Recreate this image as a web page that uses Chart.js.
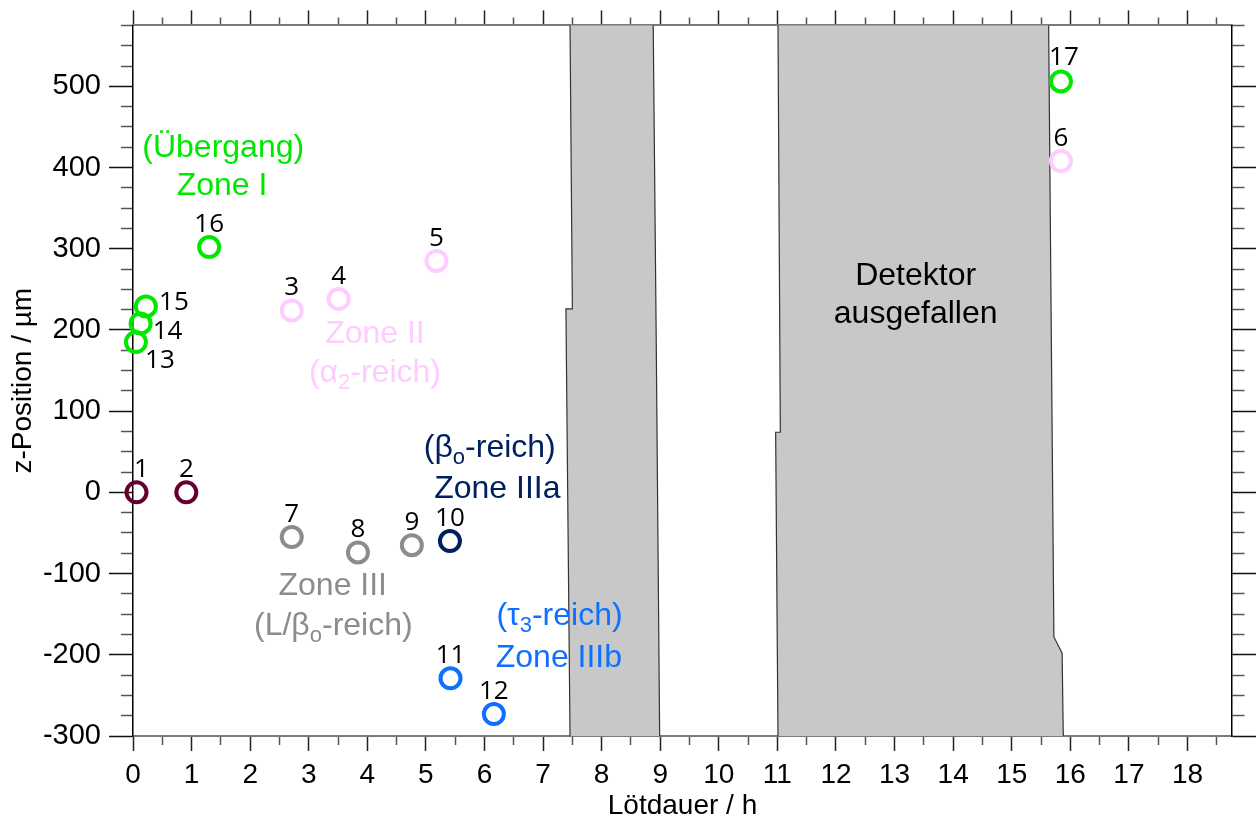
<!DOCTYPE html>
<html>
<head>
<meta charset="utf-8">
<script src="https://cdn.jsdelivr.net/npm/chart.js@4.4.1/dist/chart.umd.min.js"></script>
<style>
  html, body { margin:0; padding:0; background:#fff; }
  #wrap { width:1257px; height:827px; }
</style>
</head>
<body>
<div id="wrap"><canvas id="zChart" width="1257" height="827"></canvas></div>
<script>
// measured positions: Lötdauer (h) vs z-Position (µm)
const pointIds = [1, 2, 3, 4, 5, 6, 7, 8, 9, 10, 11, 12, 13, 14, 15, 16, 17];
const hours = [0.06, 0.91, 2.71, 3.51, 5.18, 15.84, 2.71, 3.84, 4.76, 5.41, 5.42, 6.16, 0.05, 0.13, 0.22, 1.30, 15.84];
const zPos = [0, 0, 224, 238, 285, 408, -55, -74, -65, -60, -229, -273, 185, 208, 229, 302, 506];
const pointZone = ['base', 'base', 'II', 'II', 'II', 'II', 'III', 'III', 'III', 'IIIa', 'IIIb', 'IIIb', 'I', 'I', 'I', 'I', 'I'];

// axis ranges
const xMin = 0, xMax = 18.76;
const yMin = -300, yMax = 575;

// detector outage bands, edges as [h, µm] from top to bottom
const band1Left = [[7.46, 575], [7.50, 226], [7.39, 226], [7.46, -300]];
const band1Right = [[8.88, 575], [8.93, 200], [8.99, -300]];
const band2Left = [[11.01, 575], [11.05, 74], [10.97, 74], [11.01, -300]];
const band2Right = [[15.63, 575], [15.72, -178], [15.86, -198], [15.88, -300]];

const zoneColors = {
  base: '#660033',
  I: '#00e800',
  II: '#ffccff',
  III: '#8c8c8c',
  IIIa: '#002060',
  IIIb: '#0f6fff'
};

// zone captions; [text, isSubscript]
const notes = [
  { parts: [['(Übergang)']], x: 1.54, y: 413, zone: 'I' },
  { parts: [['Zone I']], x: 1.52, y: 366, zone: 'I' },
  { parts: [['Zone II']], x: 4.13, y: 184, zone: 'II' },
  { parts: [['(α'], ['2', 1], ['-reich)']], x: 4.13, y: 136, zone: 'II' },
  { parts: [['(β'], ['o', 1], ['-reich)']], x: 6.09, y: 43, zone: 'IIIa' },
  { parts: [['Zone IIIa']], x: 6.22, y: -7, zone: 'IIIa' },
  { parts: [['Zone III']], x: 3.41, y: -126, zone: 'III' },
  { parts: [['(L/β'], ['o', 1], ['-reich)']], x: 3.42, y: -176, zone: 'III' },
  { parts: [['(τ'], ['3', 1], ['-reich)']], x: 7.28, y: -163, zone: 'IIIb' },
  { parts: [['Zone IIIb']], x: 7.27, y: -215, zone: 'IIIb' },
  { parts: [['Detektor']], x: 13.36, y: 255, zone: null },
  { parts: [['ausgefallen']], x: 13.36, y: 208, zone: null }
];

// label offsets in px (dx, baseline dy) per point number
const labelOffsets = { 1: [5, -15], 13: [24, 26], 14: [27, 16], 15: [28, 4], 17: [3, -16] };

Chart.defaults.font.family = "'Liberation Sans', Arial, sans-serif";
Chart.defaults.color = '#000';

// build one scatter dataset per zone
const zoneOrder = ['base', 'II', 'III', 'IIIa', 'IIIb', 'I'];
const datasets = zoneOrder.map(z => {
  const data = [];
  pointIds.forEach((id, i) => {
    if (pointZone[i] === z) data.push({ x: hours[i], y: zPos[i], id: id });
  });
  return {
    label: z,
    data: data,
    pointRadius: 10,
    pointBorderWidth: 4,
    borderColor: zoneColors[z],
    backgroundColor: 'rgba(0,0,0,0)',
    showLine: false,
    clip: false
  };
});

const bands = [
  { left: band1Left, right: band1Right },
  { left: band2Left, right: band2Right }
];

const bandPlugin = {
  id: 'bands',
  beforeDatasetsDraw(chart) {
    const { ctx, scales: { x, y } } = chart;
    const px = p => [x.getPixelForValue(p[0]), y.getPixelForValue(p[1])];
    ctx.save();
    bands.forEach(b => {
      const pts = b.left.concat(b.right.slice().reverse()).map(px);
      ctx.beginPath();
      pts.forEach((p, i) => i ? ctx.lineTo(p[0], p[1]) : ctx.moveTo(p[0], p[1]));
      ctx.closePath();
      ctx.fillStyle = '#c8c8c8';
      ctx.fill();
      ctx.strokeStyle = '#333';
      ctx.lineWidth = 1.2;
      [b.left, b.right].forEach(edge => {
        ctx.beginPath();
        edge.map(px).forEach((p, i) => i ? ctx.lineTo(p[0], p[1]) : ctx.moveTo(p[0], p[1]));
        ctx.stroke();
      });
    });
    ctx.restore();
  }
};

const textPlugin = {
  id: 'texts',
  afterDatasetsDraw(chart) {
    const { ctx, scales: { x, y } } = chart;
    ctx.save();
    // point numbers
    ctx.font = "26px 'Open Sans', 'Noto Sans', sans-serif";
    ctx.fillStyle = '#000';
    ctx.textAlign = 'center';
    ctx.textBaseline = 'alphabetic';
    pointIds.forEach((id, i) => {
      const off = labelOffsets[id] || [0, -15];
      ctx.fillText(String(id), x.getPixelForValue(hours[i]) + off[0], y.getPixelForValue(zPos[i]) + off[1]);
    });
    // zone captions
    ctx.textAlign = 'left';
    const big = "32px 'Liberation Sans', Arial, sans-serif";
    const small = "22px 'Liberation Sans', Arial, sans-serif";
    notes.forEach(n => {
      let total = 0;
      n.parts.forEach(p => { ctx.font = p[1] ? small : big; total += ctx.measureText(p[0]).width; });
      let cx = x.getPixelForValue(n.x) - total / 2;
      const by = y.getPixelForValue(n.y);
      ctx.fillStyle = n.zone ? zoneColors[n.zone] : '#000';
      n.parts.forEach(p => {
        ctx.font = p[1] ? small : big;
        ctx.fillText(p[0], cx, by + (p[1] ? 7 : 0));
        cx += ctx.measureText(p[0]).width;
      });
    });
    ctx.restore();
  }
};

const isMajorX = v => Math.abs(v - Math.round(v)) < 1e-6;
const isMajorY = v => Math.abs(v % 100) < 1e-6;

new Chart(document.getElementById('zChart'), {
  type: 'scatter',
  data: { datasets: datasets },
  plugins: [bandPlugin, textPlugin],
  options: {
    responsive: false,
    animation: false,
    events: [],
    layout: { padding: 0 },
    plugins: { legend: { display: false }, tooltip: { enabled: false } },
    scales: {
      x: {
        type: 'linear', position: 'bottom', min: xMin, max: xMax,
        afterFit: s => { s.height = 91; },
        border: { color: '#7a7a7a', width: 2 },
        grid: {
          drawOnChartArea: false, tickLength: 15, tickWidth: 1.5,
          tickColor: c => isMajorX(c.tick.value) ? '#222' : '#555',
          tickBorderDash: c => isMajorX(c.tick.value) ? [] : [8, 100]
        },
        ticks: {
          stepSize: 0.5, autoSkip: false, includeBounds: false, maxRotation: 0, padding: 7,
          font: { size: 28 }, color: '#000',
          callback: v => isMajorX(v) ? String(Math.round(v)) : ''
        },
        title: { display: true, text: 'Lötdauer / h', font: { size: 28 }, color: '#000', padding: { top: 0, bottom: 4 } }
      },
      x2: {
        type: 'linear', position: 'top', min: xMin, max: xMax,
        afterFit: s => { s.height = 25; },
        border: { color: '#7a7a7a', width: 2 },
        grid: {
          drawOnChartArea: false, tickLength: 15, tickWidth: 1.5,
          tickColor: c => isMajorX(c.tick.value) ? '#222' : '#555',
          tickBorderDash: c => isMajorX(c.tick.value) ? [] : [0, 7, 8, 100]
        },
        ticks: { stepSize: 0.5, autoSkip: false, includeBounds: false, display: false }
      },
      y: {
        type: 'linear', position: 'left', min: yMin, max: yMax,
        afterFit: s => { s.width = 133; },
        border: { color: '#000', width: 1.5 },
        grid: {
          drawOnChartArea: false, tickLength: 24, tickWidth: 1.5,
          tickColor: c => isMajorY(c.tick.value) ? '#111' : '#555',
          tickBorderDash: c => isMajorY(c.tick.value) ? [] : [0, 12, 12, 100]
        },
        ticks: {
          stepSize: 25, autoSkip: false, padding: 8,
          font: { size: 29 }, color: '#000',
          callback: v => isMajorY(v) ? String(v) : ''
        },
        title: { display: true, text: 'z-Position / µm', font: { size: 28 }, color: '#000', padding: { top: 6, bottom: 0 } }
      },
      y2: {
        type: 'linear', position: 'right', min: yMin, max: yMax,
        afterFit: s => { s.width = 25; },
        border: { color: '#000', width: 1.5 },
        grid: {
          drawOnChartArea: false, tickLength: 24, tickWidth: 1.5,
          tickColor: c => isMajorY(c.tick.value) ? '#111' : '#555',
          tickBorderDash: c => isMajorY(c.tick.value) ? [] : [12, 100]
        },
        ticks: { stepSize: 25, autoSkip: false, display: false }
      }
    }
  }
});
</script>
</body>
</html>
